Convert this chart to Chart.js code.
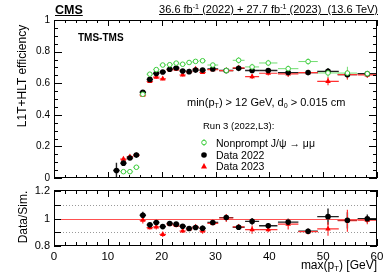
<!DOCTYPE html>
<html>
<head>
<meta charset="utf-8">
<script src="https://cdn.jsdelivr.net/npm/chart.js@4.4.1/dist/chart.umd.min.js"></script>
<style>
    body { margin: 0; background: #fff; font-family: "Liberation Sans", Arial, sans-serif; }
    #wrap { position: relative; width: 389px; height: 279px; overflow: hidden; }
    canvas { position: absolute; left: 0; top: 0; }
    .t { position: absolute; white-space: nowrap; color: #000; line-height: 1; }
    .rot { transform: translate(-50%, -50%) rotate(-90deg); }
    sup { font-size: 0.65em; vertical-align: 0.55em; line-height: 0; }
    sub { font-size: 0.65em; vertical-align: -0.3em; line-height: 0; }
</style>
</head>
<body>
<div id="wrap">
    <canvas id="effChart" width="389" height="279"></canvas>
    <canvas id="ratioChart" width="389" height="279"></canvas>

    <div class="t" style="left:55px;top:4px;font-size:12.5px;font-weight:bold;text-decoration:underline;">CMS</div>
    <div class="t" style="right:11px;top:4px;font-size:11px;text-decoration:underline;">36.6 fb<sup>-1</sup> (2022) + 27.7 fb<sup>-1</sup> (2023)&nbsp; (13.6 TeV)</div>
    <div class="t" style="left:78px;top:33px;font-size:10px;font-weight:bold;">TMS-TMS</div>
    <div class="t" style="left:187px;top:97px;font-size:11px;">min(p<sub>T</sub>) &gt; 12 GeV, d<sub>0</sub> &gt; 0.015 cm</div>
    <div class="t" style="left:203px;top:121px;font-size:9.5px;">Run 3 (2022,L3):</div>
    <div class="t" style="left:216px;top:138px;font-size:10.5px;">Nonprompt J/ψ → μμ</div>
    <div class="t" style="left:216px;top:150px;font-size:10.5px;">Data 2022</div>
    <div class="t" style="left:216px;top:161px;font-size:10.5px;">Data 2023</div>
    <div class="t rot" style="left:22px;top:76px;font-size:12px;">L1T+HLT efficiency</div>
    <div class="t rot" style="left:23px;top:217px;font-size:12px;">Data/Sim.</div>
    <div class="t" style="right:12px;top:259px;font-size:12px;">max(p<sub>T</sub>) [GeV]</div>
</div>

<script>
// Bin centres and half widths in max(pT) [GeV]
const ptBins = [11.6, 12.9, 14.1, 15.3, 16.5, 17.8, 19.0, 20.2, 21.5, 22.7, 23.9, 25.1,
    26.3, 27.6, 29.5, 32.0, 34.3, 36.8, 39.8, 43.5, 47.2, 50.9, 54.5, 58.2];
const ptHalfWidth = [0.6, 0.6, 0.6, 0.6, 0.6, 0.6, 0.6, 0.6, 0.6, 0.6, 0.6, 0.6,
    0.6, 0.6, 1.0, 1.3, 1.1, 1.3, 1.7, 1.9, 1.8, 2.0, 1.8, 1.8];

// Efficiencies (upper panel)
const effSim = [null, 0.040, 0.040, 0.068, 0.530, 0.657, 0.686, 0.715, 0.717, 0.727, 0.720, 0.731,
    0.738, 0.742, 0.715, 0.680, 0.745, 0.703, 0.728, 0.692, 0.737, 0.665, 0.664, 0.660];
const effSimErr = [0, 0.005, 0.005, 0.008, 0.01, 0.01, 0.01, 0.01, 0.01, 0.01, 0.01, 0.01,
    0.01, 0.01, 0.012, 0.02, 0.02, 0.02, 0.02, 0.02, 0.02, 0.03, 0.04, 0.02];
const eff2022 = [0.047, 0.094, 0.127, 0.145, 0.543, 0.624, 0.662, 0.671, 0.688, 0.696, 0.677, 0.673,
    0.683, 0.683, 0.690, 0.680, 0.694, 0.680, 0.680, 0.667, 0.667, 0.675, 0.654, 0.660];
const eff2022Err = [0.05, 0.012, 0.01, 0.01, 0.01, 0.008, 0.008, 0.008, 0.008, 0.008, 0.008, 0.008,
    0.008, 0.008, 0.008, 0.01, 0.01, 0.012, 0.012, 0.015, 0.012, 0.02, 0.02, 0.015];
const eff2023 = [null, 0.120, 0.135, 0.145, 0.525, 0.611, 0.638, 0.628, 0.685, 0.689, 0.652, 0.673,
    0.690, 0.668, 0.686, 0.680, 0.697, 0.641, 0.663, 0.659, 0.667, 0.612, 0.654, 0.653];
const eff2023Err = [0, 0.015, 0.012, 0.012, 0.012, 0.01, 0.01, 0.01, 0.01, 0.01, 0.01, 0.01,
    0.01, 0.01, 0.01, 0.012, 0.012, 0.015, 0.015, 0.02, 0.015, 0.025, 0.03, 0.02];

// Data/Sim. ratios (lower panel)
const ratio2022 = [null, null, null, null, 1.025, 0.955, 0.972, 0.942, 0.965, 0.960, 0.945, 0.928,
    0.935, 0.930, 0.972, 1.008, 0.937, 0.980, 0.948, 0.975, 0.908, 1.015, 0.988, 1.000];
const ratio2022Err = [0, 0, 0, 0, 0.025, 0.015, 0.015, 0.015, 0.015, 0.015, 0.015, 0.015,
    0.015, 0.02, 0.015, 0.02, 0.015, 0.025, 0.02, 0.025, 0.02, 0.06, 0.06, 0.03];
const ratio2023 = [null, null, null, null, 0.990, 0.935, 0.940, 0.885, 0.960, 0.950, 0.910, 0.925,
    0.940, 0.910, 0.965, 1.005, 0.940, 0.920, 0.920, 0.960, 0.905, 0.925, 0.985, 0.990];
const ratio2023Err = [0, 0, 0, 0, 0.025, 0.015, 0.02, 0.02, 0.015, 0.015, 0.015, 0.015,
    0.015, 0.02, 0.015, 0.03, 0.02, 0.03, 0.02, 0.04, 0.02, 0.05, 0.08, 0.03];

// Tick labels
const xTicks = [0, 10, 20, 30, 40, 50, 60];
const effTicks = [0, 0.2, 0.4, 0.6, 0.8, 1];
const ratioTicks = [0.8, 0.9, 1, 1.1, 1.2];

const COLORS = {
    sim: '#3ccc3c',
    simBar: '#70dd70',
    d22: '#000000',
    d23: '#ff0000'
};

function points(values) {
    return ptBins.map((x, i) => ({ x, y: values[i] }));
}

// ROOT-like error bars, drawn under the markers through the chart scales
const errorBars = {
    id: 'errorBars',
    beforeDatasetsDraw(chart) {
        const { ctx, chartArea, scales: { x, y } } = chart;
        ctx.save();
        ctx.beginPath();
        ctx.rect(chartArea.left, chartArea.top, chartArea.width, chartArea.height);
        ctx.clip();
        chart.data.datasets.forEach(ds => {
            if (!ds.errY) return;
            ctx.strokeStyle = ds.barColor;
            ctx.lineWidth = ds.barWidth || 1;
            ds.data.forEach((pt, i) => {
                if (pt.y == null) return;
                const px = x.getPixelForValue(pt.x);
                const py = y.getPixelForValue(pt.y);
                ctx.beginPath();
                ctx.moveTo(x.getPixelForValue(pt.x - ptHalfWidth[i]), py);
                ctx.lineTo(x.getPixelForValue(pt.x + ptHalfWidth[i]), py);
                ctx.moveTo(px, y.getPixelForValue(pt.y - ds.errY[i]));
                ctx.lineTo(px, y.getPixelForValue(pt.y + ds.errY[i]));
                ctx.stroke();
            });
        });
        ctx.restore();
    }
};

// Frame with inward ticks on all four sides
function frameTicks(cfg) {
    return {
        id: 'frameTicks',
        beforeDatasetsDraw(chart) {
            if (cfg.refLines) cfg.refLines(chart);
        },
        afterDraw(chart) {
            const { ctx, chartArea: a, scales: { x, y } } = chart;
            ctx.save();
            ctx.strokeStyle = '#000';
            ctx.lineWidth = 1;
            ctx.strokeRect(a.left + 0.5, a.top + 0.5, a.width - 1, a.height - 1);
            ctx.beginPath();
            for (let v = 0; v <= 60.001; v += 2) {
                const px = Math.round(x.getPixelForValue(v)) + 0.5;
                const len = v % 10 === 0 ? cfg.xMajor : cfg.xMinor;
                ctx.moveTo(px, a.bottom); ctx.lineTo(px, a.bottom - len);
                ctx.moveTo(px, a.top); ctx.lineTo(px, a.top + len);
            }
            cfg.yValues.forEach(([v, major]) => {
                const py = Math.round(y.getPixelForValue(v)) + 0.5;
                const len = major ? cfg.yMajor : cfg.yMinor;
                ctx.moveTo(a.left, py); ctx.lineTo(a.left + len, py);
                ctx.moveTo(a.right, py); ctx.lineTo(a.right - len, py);
            });
            ctx.stroke();
            if (cfg.extra) cfg.extra(ctx);
            ctx.restore();
        }
    };
}

function drawLegendGlyphs(ctx) {
    const lx = 204;
    // Nonprompt J/psi: open green circle
    ctx.strokeStyle = COLORS.simBar;
    ctx.beginPath(); ctx.moveTo(lx, 139); ctx.lineTo(lx, 146); ctx.stroke();
    ctx.fillStyle = '#fff';
    ctx.strokeStyle = COLORS.sim;
    ctx.beginPath(); ctx.arc(lx, 142.5, 2.3, 0, Math.PI * 2); ctx.fill(); ctx.stroke();
    // Data 2022
    ctx.fillStyle = COLORS.d22;
    ctx.beginPath(); ctx.arc(lx, 155, 2.8, 0, Math.PI * 2); ctx.fill();
    // Data 2023
    ctx.fillStyle = COLORS.d23;
    ctx.beginPath();
    ctx.moveTo(lx, 163); ctx.lineTo(lx + 3, 168.5); ctx.lineTo(lx - 3, 168.5); ctx.closePath();
    ctx.fill();
}

const baseOptions = (top, xHeight, yTicks, showX) => ({
    animation: false,
    responsive: false,
    devicePixelRatio: 1,
    layout: { padding: { left: 0, right: 12, top, bottom: 0 } },
    plugins: { legend: { display: false }, tooltip: { enabled: false } },
    scales: {
        x: {
            type: 'linear', min: 0, max: 60,
            grid: { display: false, drawTicks: false },
            border: { display: false },
            afterFit: s => { s.height = xHeight; },
            afterBuildTicks: s => { s.ticks = xTicks.map(v => ({ value: v })); },
            ticks: {
                display: showX, padding: 4, color: '#000',
                font: { family: 'Liberation Sans', size: 11.5 }
            }
        },
        y: {
            type: 'linear', min: yTicks.min, max: yTicks.max,
            grid: { display: false, drawTicks: false },
            border: { display: false },
            afterFit: s => { s.width = 54; },
            afterBuildTicks: s => { s.ticks = yTicks.values.map(v => ({ value: v })); },
            ticks: {
                padding: 4, color: '#000',
                font: { family: 'Liberation Sans', size: yTicks.size },
                callback: v => String(Math.round(v * 10) / 10)
            }
        }
    }
});

function scatterSet(values, errs, style) {
    return {
        data: points(values),
        errY: errs,
        showLine: false,
        ...style
    };
}

document.addEventListener('DOMContentLoaded', () => {
    // Upper panel: efficiency
    const effY = [];
    for (let i = 0; i <= 20; i++) effY.push([i * 0.05, i % 4 === 0]);

    new Chart(document.getElementById('effChart'), {
        type: 'scatter',
        data: {
            datasets: [
                scatterSet(effSim, effSimErr, {
                    pointStyle: 'circle', pointRadius: 2.3, borderWidth: 1,
                    borderColor: COLORS.sim, backgroundColor: '#fff',
                    barColor: COLORS.simBar, barWidth: 1
                }),
                scatterSet(eff2022, eff2022Err, {
                    pointStyle: 'circle', pointRadius: 2.8, borderWidth: 0,
                    backgroundColor: COLORS.d22, borderColor: COLORS.d22,
                    barColor: '#222', barWidth: 1.4
                }),
                scatterSet(eff2023, eff2023Err, {
                    pointStyle: 'triangle', pointRadius: 3.2, borderWidth: 0,
                    backgroundColor: COLORS.d23, borderColor: COLORS.d23,
                    barColor: '#ff3030', barWidth: 1.2
                })
            ]
        },
        options: baseOptions(20, 279 - 178, { min: 0, max: 1, values: effTicks, size: 10 }, false),
        plugins: [errorBars, frameTicks({
            xMajor: 6, xMinor: 3, yMajor: 8, yMinor: 4,
            yValues: effY,
            extra: drawLegendGlyphs
        })]
    });

    // Lower panel: Data/Sim.
    const ratioY = ratioTicks.map(v => [v, true]);

    new Chart(document.getElementById('ratioChart'), {
        type: 'scatter',
        data: {
            datasets: [
                scatterSet(ratio2022, ratio2022Err, {
                    pointStyle: 'circle', pointRadius: 2.8, borderWidth: 0,
                    backgroundColor: COLORS.d22, borderColor: COLORS.d22,
                    barColor: '#222', barWidth: 1.4
                }),
                scatterSet(ratio2023, ratio2023Err, {
                    pointStyle: 'triangle', pointRadius: 3.2, borderWidth: 0,
                    backgroundColor: COLORS.d23, borderColor: COLORS.d23,
                    barColor: '#ff3030', barWidth: 1.2
                })
            ]
        },
        options: baseOptions(190, 279 - 246, { min: 0.8, max: 1.21, values: ratioTicks, size: 11 }, true),
        plugins: [errorBars, frameTicks({
            xMajor: 7, xMinor: 4, yMajor: 7, yMinor: 4,
            yValues: ratioY,
            refLines(chart) {
                const { ctx, chartArea: a, scales: { y } } = chart;
                ctx.save();
                ctx.lineWidth = 1;
                ctx.strokeStyle = '#9a9a9a';
                ctx.setLineDash([1, 2]);
                [0.9, 1.1].forEach(v => {
                    const py = Math.round(y.getPixelForValue(v)) + 0.5;
                    ctx.beginPath(); ctx.moveTo(a.left, py); ctx.lineTo(a.right, py); ctx.stroke();
                });
                ctx.setLineDash([]);
                ctx.strokeStyle = '#ff5050';
                const p1 = Math.round(y.getPixelForValue(1)) + 0.5;
                ctx.beginPath(); ctx.moveTo(a.left, p1); ctx.lineTo(a.right, p1); ctx.stroke();
                ctx.restore();
            }
        })]
    });
});
</script>
</body>
</html>
